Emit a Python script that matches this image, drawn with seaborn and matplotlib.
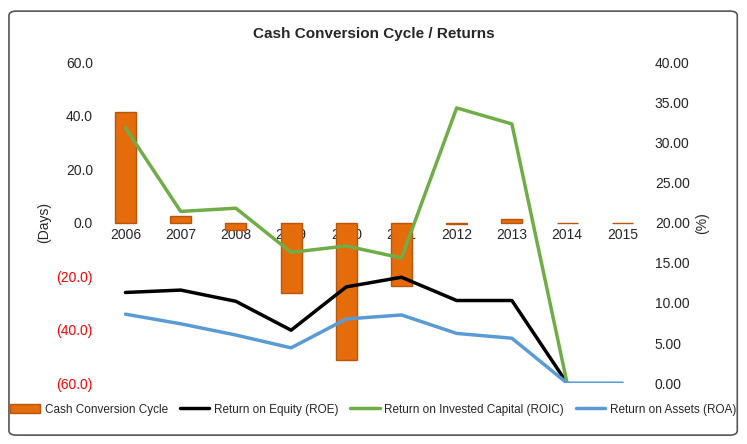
import matplotlib
matplotlib.use("Agg")
import matplotlib.pyplot as plt
import seaborn as sns
import pandas as pd
from matplotlib.patches import FancyBboxPatch
from matplotlib.lines import Line2D
from matplotlib.patches import Patch

years = ["2006","2007","2008","2009","2010","2011","2012","2013","2014","2015"]
ccc = [41.3, 2.5, -2.8, -26.3, -51.4, -23.7, -0.5, 1.2, 0, 0]
roe = [11.3, 11.6, 10.2, 6.6, 12.0, 13.2, 10.3, 10.3, 0.0, None]
roic = [31.8, 21.4, 21.8, 16.3, 17.1, 15.6, 34.3, 32.3, 0.0, None]
roa = [8.6, 7.4, 6.0, 4.4, 8.0, 8.5, 6.2, 5.6, 0.0, 0.0]

sns.set_style("white")
plt.rcParams['font.family'] = ['Liberation Sans', 'DejaVu Sans']

fig = plt.figure(figsize=(7.47, 4.44), dpi=100)
fig.patches.append(FancyBboxPatch((0.012, 0.02), 0.975, 0.955, boxstyle="round,pad=0,rounding_size=0.01",
                                  transform=fig.transFigure, fc="white", ec="#555555", lw=1.2, zorder=-1))
ax = fig.add_axes([0.131, 0.137, 0.739, 0.723])
df = pd.DataFrame({"year": years, "ccc": ccc, "roe": roe, "roic": roic, "roa": roa})
x = list(range(len(years)))

sns.barplot(x=x, y=df["ccc"], ax=ax, color="#E46C0A", edgecolor="#B85610", linewidth=1, width=0.38, saturation=1)
ax.set_ylim(-60, 60)
ax.set_yticks(range(-60, 61, 20))
ax.set_yticklabels([f"({abs(v):.1f})" if v < 0 else f"{v:.1f}" for v in range(-60, 61, 20)], fontsize=10)
for t, v in zip(ax.get_yticklabels(), range(-60, 61, 20)):
    if v < 0:
        t.set_color("#FF0000")
ax.set_ylabel("(Days)", fontsize=10)
ax.spines['bottom'].set_position(('data', 0))
ax.spines['bottom'].set_visible(False)
for s in ['top', 'left', 'right']:
    ax.spines[s].set_visible(False)
ax.set_xticks(x)
ax.set_xticklabels(years, fontsize=10)
ax.tick_params(axis='both', length=0)
ax.set_xlim(-0.5, 9.5)

ax2 = ax.twinx()
sns.lineplot(x=x, y=df["roe"], ax=ax2, color="black", lw=2.5)
sns.lineplot(x=x, y=df["roic"], ax=ax2, color="#70AD47", lw=2.5)
sns.lineplot(x=x, y=df["roa"], ax=ax2, color="#5B9BD5", lw=2.5)
ax2.set_ylim(0, 40)
ax2.set_yticks(range(0, 41, 5))
ax2.set_yticklabels([f"{v:.2f}" for v in range(0, 41, 5)], fontsize=10)
ax2.set_ylabel("(%)", fontsize=10)
ax2.tick_params(length=0)
for s in ax2.spines.values():
    s.set_visible(False)
ax2.set_xlim(-0.5, 9.5)

fig.text(0.5, 0.915, "Cash Conversion Cycle / Returns", ha="center", fontsize=11, fontweight="bold")
handles = [Patch(fc="#E46C0A", ec="#B85610"),
           Line2D([], [], color="black", lw=2.5),
           Line2D([], [], color="#70AD47", lw=2.5),
           Line2D([], [], color="#5B9BD5", lw=2.5)]
labels = ["Cash Conversion Cycle", "Return on Equity (ROE)", "Return on Invested Capital (ROIC)", "Return on Assets (ROA)"]
fig.legend(handles, labels, loc="lower center", bbox_to_anchor=(0.5, 0.04), ncol=4, frameon=False,
           fontsize=8.5, handlelength=2.5, columnspacing=1.0, handletextpad=0.4)
fig.savefig("out.png", dpi=100)
